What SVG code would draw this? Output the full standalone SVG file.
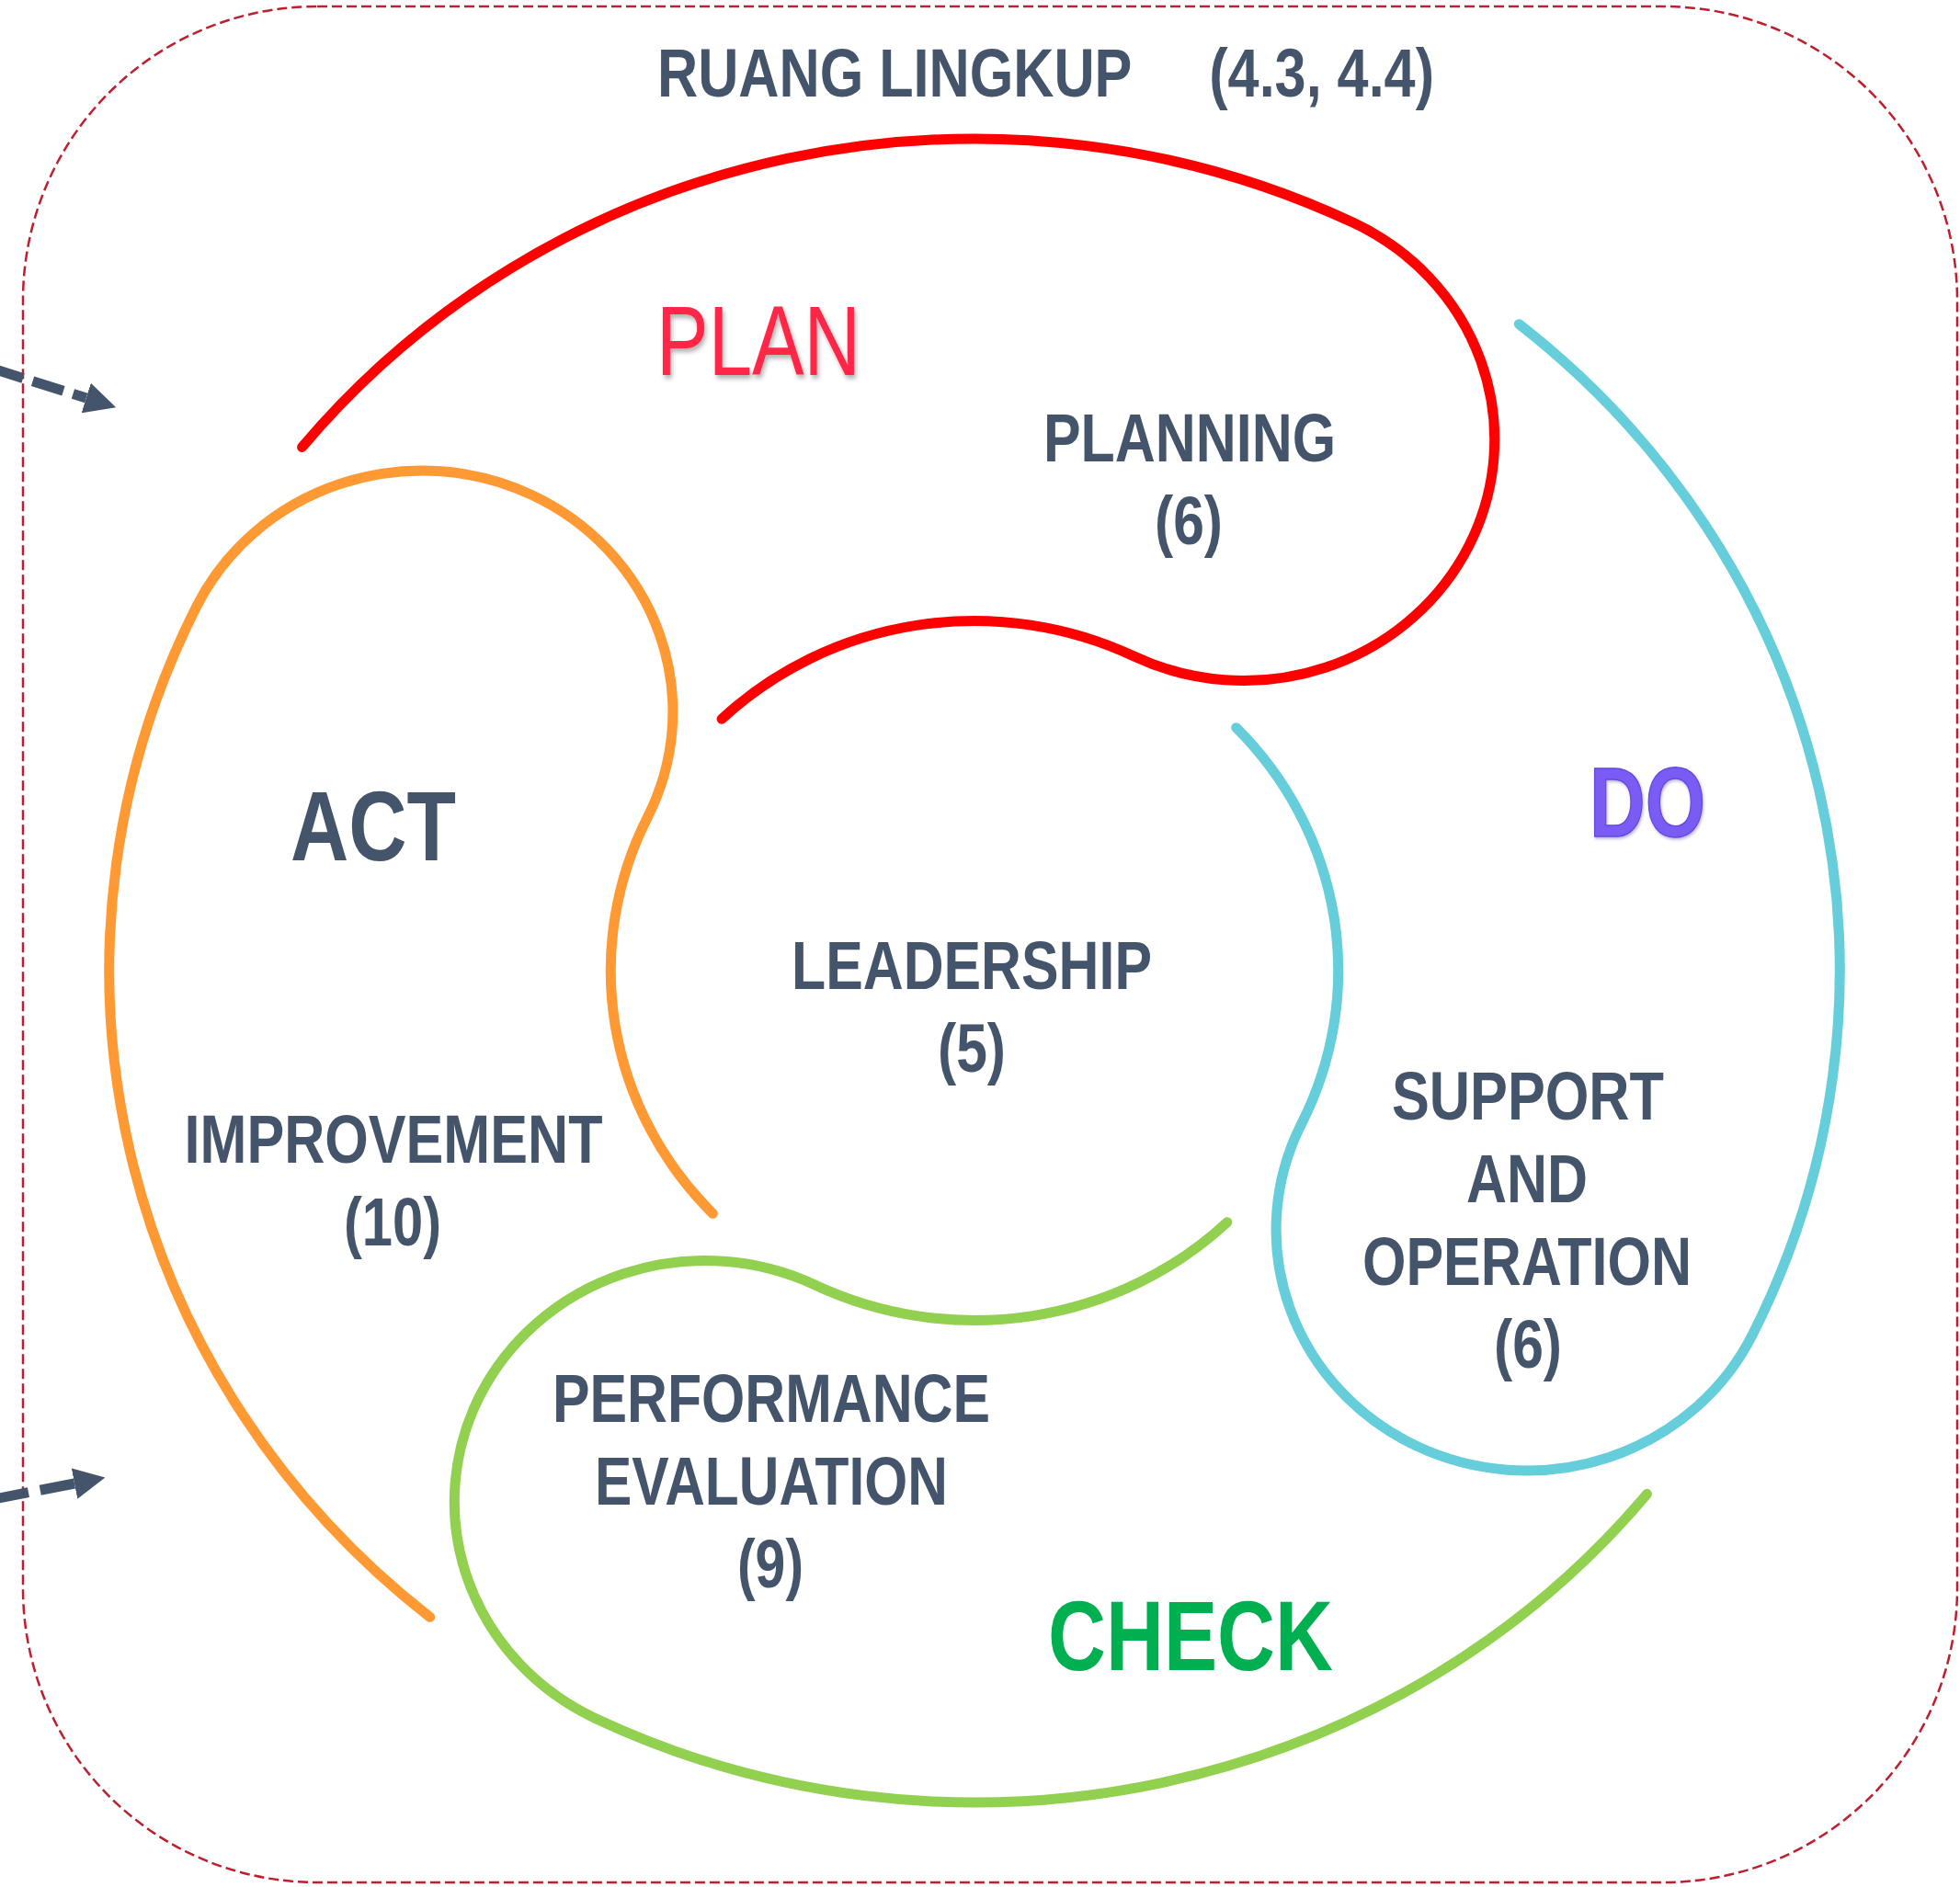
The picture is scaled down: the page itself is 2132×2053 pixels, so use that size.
<svg xmlns="http://www.w3.org/2000/svg" width="2132" height="2053" viewBox="0 0 2132 2053">
  <defs>
    <style>
      .lbl { font-family: "Liberation Sans Narrow", "Liberation Sans", Arial, sans-serif; font-weight: bold; font-size: 75px; fill: #44546A; text-anchor: middle; }
      .big { font-family: "Liberation Sans Narrow", "Liberation Sans", Arial, sans-serif; font-size: 107px; text-anchor: middle; }
      .swirl { fill: none; stroke-width: 11; stroke-linecap: round; }
      .arrow { fill: none; stroke: #44546A; stroke-width: 11; }
    </style>
    <marker id="head" viewBox="0 0 34 34" markerWidth="34" markerHeight="34" markerUnits="userSpaceOnUse" refX="0" refY="17" orient="auto-start-reverse">
      <path d="M0,0 L34,17 L0,34 Z" fill="#44546A"/>
    </marker>
    <filter id="shadow" x="-10%" y="-10%" width="130%" height="140%">
      <feDropShadow dx="2" dy="4" stdDeviation="2.5" flood-color="#000" flood-opacity="0.3"/>
    </filter>
    <filter id="bevel" x="-10%" y="-10%" width="130%" height="140%">
      <feDropShadow dx="1" dy="2" stdDeviation="1.5" flood-color="#3a2a90" flood-opacity="0.35"/>
    </filter>
  </defs>

  <rect width="2132" height="2053" fill="#FFFFFF"/>

  <g id="scope">
    <rect x="25" y="7" width="2104" height="2041" rx="320" ry="320" fill="none" stroke="#BE1E2D" stroke-width="2.5" stroke-dasharray="11 5"/>
    <text class="lbl" x="715" y="105" style="text-anchor:start; white-space:pre" xml:space="preserve" textLength="845" lengthAdjust="spacingAndGlyphs">RUANG LINGKUP     (4.3, 4.4)</text>
  </g>

  <g id="plan">
    <path class="swirl" stroke="#FF0000" vector-effect="non-scaling-stroke" transform="translate(1060 1056) scale(1.04 1) rotate(0)" d="M -703.32 -569.53 A 905 905 0 0 1 396.73 -813.41 A 262.25 262.25 0 0 1 166.80 -341.99 A 380.5 380.5 0 0 0 -264.32 -273.71"/>
    <text class="big" x="825" y="408" fill="#FF2846" filter="url(#shadow)" textLength="222" lengthAdjust="spacingAndGlyphs">PLAN</text>
    <text class="lbl" x="1294" y="502" textLength="318" lengthAdjust="spacingAndGlyphs">PLANNING</text>
    <text class="lbl" x="1293" y="592" textLength="74" lengthAdjust="spacingAndGlyphs">(6)</text>
  </g>

  <g id="do">
    <path class="swirl" stroke="#66CEDA" vector-effect="non-scaling-stroke" transform="translate(1060 1056) scale(1.04 1) rotate(90)" d="M -703.32 -569.53 A 905 905 0 0 1 396.73 -813.41 A 262.25 262.25 0 0 1 166.80 -341.99 A 380.5 380.5 0 0 0 -264.32 -273.71"/>
    <text class="big" x="1792" y="910" fill="#7A5CF5" stroke="#6549DD" stroke-width="1.5" font-weight="bold" filter="url(#bevel)" textLength="126" lengthAdjust="spacingAndGlyphs">DO</text>
    <text class="lbl" x="1662" y="1218" textLength="296" lengthAdjust="spacingAndGlyphs">SUPPORT</text>
    <text class="lbl" x="1661" y="1308" textLength="132" lengthAdjust="spacingAndGlyphs">AND</text>
    <text class="lbl" x="1661" y="1398" textLength="358" lengthAdjust="spacingAndGlyphs">OPERATION</text>
    <text class="lbl" x="1662" y="1488" textLength="74" lengthAdjust="spacingAndGlyphs">(6)</text>
  </g>

  <g id="check">
    <path class="swirl" stroke="#92D050" vector-effect="non-scaling-stroke" transform="translate(1060 1056) scale(1.04 1) rotate(180)" d="M -703.32 -569.53 A 905 905 0 0 1 396.73 -813.41 A 262.25 262.25 0 0 1 166.80 -341.99 A 380.5 380.5 0 0 0 -264.32 -273.71"/>
    <text class="big" x="1295" y="1817" fill="#00B050" font-weight="bold" textLength="310" lengthAdjust="spacingAndGlyphs">CHECK</text>
    <text class="lbl" x="839" y="1547" textLength="476" lengthAdjust="spacingAndGlyphs">PERFORMANCE</text>
    <text class="lbl" x="839" y="1637" textLength="384" lengthAdjust="spacingAndGlyphs">EVALUATION</text>
    <text class="lbl" x="838" y="1727" textLength="72" lengthAdjust="spacingAndGlyphs">(9)</text>
  </g>

  <g id="act">
    <path class="swirl" stroke="#FF9933" vector-effect="non-scaling-stroke" transform="translate(1060 1056) scale(1.04 1) rotate(270)" d="M -703.32 -569.53 A 905 905 0 0 1 396.73 -813.41 A 262.25 262.25 0 0 1 166.80 -341.99 A 380.5 380.5 0 0 0 -264.32 -273.71"/>
    <text class="big" x="406" y="936" fill="#44546A" font-weight="bold" font-size="108" textLength="180" lengthAdjust="spacingAndGlyphs">ACT</text>
    <text class="lbl" x="428" y="1265" textLength="455" lengthAdjust="spacingAndGlyphs">IMPROVEMENT</text>
    <text class="lbl" x="427" y="1355" textLength="106" lengthAdjust="spacingAndGlyphs">(10)</text>
  </g>

  <g id="leadership">
    <text class="lbl" x="1057" y="1076" textLength="392" lengthAdjust="spacingAndGlyphs">LEADERSHIP</text>
    <text class="lbl" x="1057" y="1166" textLength="74" lengthAdjust="spacingAndGlyphs">(5)</text>
  </g>

  <g id="connectors">
    <path class="arrow" d="M 93.75 433 L -40 391" stroke-dasharray="35 11" stroke-dashoffset="20" marker-start="url(#head)"/>
    <path class="arrow" d="M 81 1614 L -40 1637.5" stroke-dasharray="38 13" marker-start="url(#head)"/>
  </g>
</svg>
